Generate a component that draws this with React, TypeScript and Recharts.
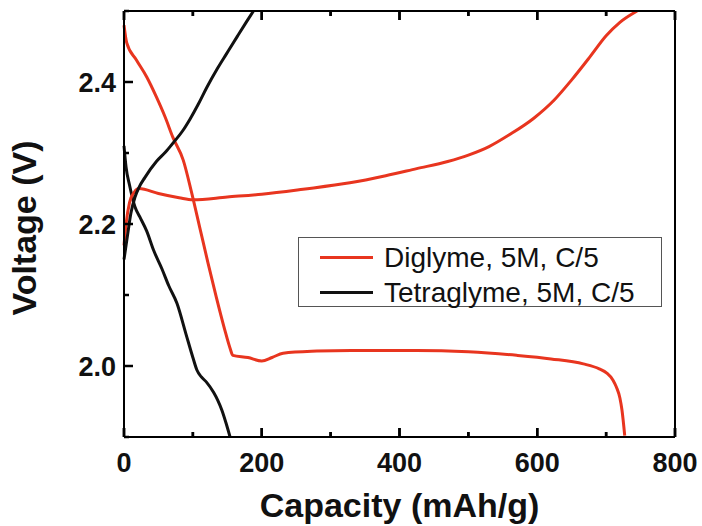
import { LineChart, Line, XAxis, YAxis, ReferenceLine, Legend } from 'recharts';

// capacity (mAh/g) vs voltage (V) for the two electrolytes, discharge and charge
const diglymeDischarge = [
  [0, 2.48], [4, 2.455], [18, 2.431], [33, 2.407], [47, 2.379], [60, 2.35], [71, 2.322],
  [86, 2.29], [98, 2.245], [110, 2.195], [122, 2.145], [134, 2.097], [146, 2.052],
  [154, 2.025], [158, 2.015], [180, 2.012], [200, 2.007], [215, 2.012], [231, 2.018],
  [280, 2.021], [330, 2.022], [425, 2.022], [500, 2.02], [570, 2.015], [620, 2.01],
  [667, 2.003], [690, 1.996], [701, 1.99], [710, 1.98], [715, 1.97], [720, 1.955],
  [723, 1.938], [727, 1.902],
];
const diglymeCharge = [
  [0, 2.17], [3, 2.2], [8, 2.23], [15, 2.245], [22, 2.25], [50, 2.243], [80, 2.237],
  [100, 2.234], [150, 2.238], [200, 2.242], [260, 2.249], [328, 2.258], [380, 2.268],
  [425, 2.278], [470, 2.288], [500, 2.297], [530, 2.309], [560, 2.326], [595, 2.349],
  [625, 2.375], [650, 2.403], [677, 2.436], [700, 2.465], [720, 2.484], [745, 2.5],
];
const tetraglymeDischarge = [
  [0, 2.31], [3, 2.28], [8, 2.255], [16, 2.224], [23, 2.21], [33, 2.19], [43, 2.163],
  [55, 2.137], [65, 2.113], [77, 2.088], [90, 2.045], [100, 2.012], [106, 1.994],
  [112, 1.985], [120, 1.977], [130, 1.963], [136, 1.952], [142, 1.938], [148, 1.92], [154, 1.9],
];
const tetraglymeCharge = [
  [0, 2.15], [3, 2.17], [6, 2.19], [10, 2.215], [16, 2.238], [22, 2.252], [30, 2.265],
  [47, 2.288], [60, 2.301], [72, 2.315], [85, 2.331], [96, 2.348], [108, 2.369],
  [120, 2.392], [135, 2.418], [149, 2.44], [165, 2.465], [178, 2.485], [188, 2.5],
];

const capacityTicks = [0, 100, 200, 300, 400, 500, 600, 700, 800];
const voltageTicks = [1.9, 2.0, 2.1, 2.2, 2.3, 2.4, 2.5];
const V_MIN = 1.9;
const V_MAX = 2.5;

const RED = '#e8351f';
const BLACK = '#111111';
const FONT = '"Liberation Sans", Arial, Helvetica, sans-serif';
const TICK_W = 2.5;
const PLOT_H = 426;
// inward tick lengths for the capacity axes, in volts
const VOLT_PER_PX = (V_MAX - V_MIN) / PLOT_H;
const MAJOR_LEN = 9 * VOLT_PER_PX;
const MINOR_LEN = 5 * VOLT_PER_PX;

const toPoints = (rows: number[][]) => rows.map(([cap, v]) => ({ cap, v }));

const isMajorCap = (v: number) => v % 200 === 0;
const isMajorVolt = (v: number) => Math.round(v * 10) % 2 === 0;

// bottom labels plus the inward tick marks on the bottom and top edges of the frame
function BottomTick({ x, y, payload }: any) {
  const major = isMajorCap(payload.value);
  const len = major ? 9 : 5;
  const top = y - PLOT_H;
  return (
    <g>
      <line x1={x} x2={x} y1={y} y2={y - len} stroke="#000" strokeWidth={TICK_W} />
      <line x1={x} x2={x} y1={top} y2={top + len} stroke="#000" strokeWidth={TICK_W} />
      {major && (
        <text x={x} y={y + 35} textAnchor="middle" fontFamily={FONT} fontWeight="bold" fontSize={27} fill="#111">
          {payload.value}
        </text>
      )}
    </g>
  );
}

function LeftTick({ x, y, payload }: any) {
  const major = isMajorVolt(payload.value);
  return (
    <g>
      <line x1={x} x2={x + (major ? 9 : 5)} y1={y} y2={y} stroke="#000" strokeWidth={TICK_W} />
      {major && (
        <text x={x - 8} y={y + 10} textAnchor="end" fontFamily={FONT} fontWeight="bold" fontSize={27} fill="#111">
          {payload.value.toFixed(1)}
        </text>
      )}
    </g>
  );
}

function LegendBox({ payload }: any) {
  const items = (payload ?? []).filter((p: any) => p.type !== 'none' && p.value);
  return (
    <div
      style={{
        position: 'relative',
        width: 364,
        height: 70,
        boxSizing: 'border-box',
        border: '1px solid #555',
        background: '#fff',
        fontFamily: FONT,
        fontSize: 28,
        color: '#111',
      }}
    >
      {items.map((item: any, i: number) => (
        <div
          key={item.value}
          style={{
            position: 'absolute',
            left: 0,
            top: 2 + i * 35,
            height: 35,
            display: 'flex',
            alignItems: 'center',
            whiteSpace: 'nowrap',
            lineHeight: 1,
          }}
        >
          <span style={{ display: 'inline-block', marginLeft: 21, width: 53, height: 3, background: item.color }} />
          <span style={{ marginLeft: 11 }}>{item.value}</span>
        </div>
      ))}
    </div>
  );
}

export default function App() {
  return (
    <div style={{ position: 'absolute', left: 0, top: 0, width: 702, height: 526, background: '#fff' }}>
      <LineChart width={702} height={526} margin={{ top: 1, right: 27, bottom: 0, left: 0 }}>
        <XAxis
          xAxisId="bottom"
          dataKey="cap"
          type="number"
          domain={[0, 800]}
          ticks={capacityTicks}
          interval={0}
          height={89}
          tickSize={0}
          tickMargin={0}
          tickLine={false}
          axisLine={{ stroke: '#000', strokeWidth: 2 }}
          tick={BottomTick}
          label={({ viewBox }: any) => {
            const vb = viewBox ?? { x: 124, y: 437, width: 551 };
            return (
              <text x={vb.x + vb.width / 2} y={vb.y + 80} textAnchor="middle" fontFamily={FONT} fontWeight="bold" fontSize={34} fill="#111">
                Capacity (mAh/g)
              </text>
            );
          }}
        />
        <XAxis
          xAxisId="top"
          orientation="top"
          dataKey="cap"
          type="number"
          domain={[0, 800]}
          ticks={capacityTicks}
          interval={0}
          height={10}
          tickSize={0}
          tickMargin={0}
          tickLine={false}
          axisLine={{ stroke: '#000', strokeWidth: 2 }}
          tick={false}
        />
        <YAxis
          yAxisId="left"
          type="number"
          domain={[V_MIN, V_MAX]}
          ticks={voltageTicks}
          interval={0}
          width={124}
          tickSize={0}
          tickMargin={0}
          tickLine={false}
          axisLine={{ stroke: '#000', strokeWidth: 2 }}
          tick={LeftTick}
          allowDataOverflow
          label={({ viewBox }: any) => {
            const vb = viewBox ?? { y: 11, height: 426 };
            const cy = vb.y + vb.height / 2 + 4;
            return (
              <text x={36} y={cy} transform={`rotate(-90 36 ${cy})`} textAnchor="middle" fontFamily={FONT} fontWeight="bold" fontSize={34} fill="#111">
                Voltage (V)
              </text>
            );
          }}
        />
        <ReferenceLine xAxisId="bottom" yAxisId="left" x={800} stroke="#000" strokeWidth={2} />
        {capacityTicks.map((c) => {
          const len = isMajorCap(c) ? MAJOR_LEN : MINOR_LEN;
          return [
            <ReferenceLine
              key={`b${c}`}
              xAxisId="bottom"
              yAxisId="left"
              segment={[{ x: c, y: V_MIN }, { x: c, y: V_MIN + len }]}
              stroke="#000"
              strokeWidth={TICK_W}
            />,
            <ReferenceLine
              key={`t${c}`}
              xAxisId="bottom"
              yAxisId="left"
              segment={[{ x: c, y: V_MAX }, { x: c, y: V_MAX - len }]}
              stroke="#000"
              strokeWidth={TICK_W}
            />,
          ];
        })}
        <Legend
          layout="vertical"
          align="center"
          verticalAlign="middle"
          content={LegendBox}
          wrapperStyle={{ left: 298, top: 237, width: 364, height: 70 }}
        />
        <Line
          xAxisId="bottom"
          yAxisId="left"
          data={toPoints(diglymeDischarge)}
          dataKey="v"
          name="Diglyme, 5M, C/5"
          type="monotone"
          stroke={RED}
          strokeWidth={3}
          dot={false}
          isAnimationActive={false}
        />
        <Line
          xAxisId="bottom"
          yAxisId="left"
          data={toPoints(tetraglymeDischarge)}
          dataKey="v"
          name="Tetraglyme, 5M, C/5"
          type="monotone"
          stroke={BLACK}
          strokeWidth={3}
          dot={false}
          isAnimationActive={false}
        />
        <Line
          xAxisId="bottom"
          yAxisId="left"
          data={toPoints(diglymeCharge)}
          dataKey="v"
          name="diglyme-charge"
          legendType="none"
          type="monotone"
          stroke={RED}
          strokeWidth={3}
          dot={false}
          isAnimationActive={false}
        />
        <Line
          xAxisId="bottom"
          yAxisId="left"
          data={toPoints(tetraglymeCharge)}
          dataKey="v"
          name="tetraglyme-charge"
          legendType="none"
          type="monotone"
          stroke={BLACK}
          strokeWidth={3}
          dot={false}
          isAnimationActive={false}
        />
      </LineChart>
    </div>
  );
}
